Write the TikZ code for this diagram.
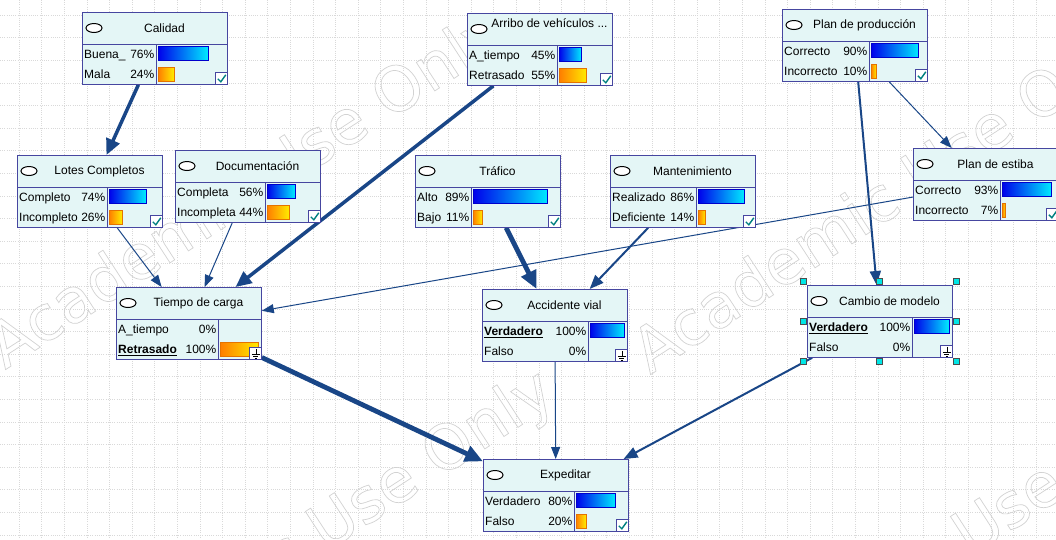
\documentclass[tikz,border=0pt]{standalone}
\usepackage{fontspec}
\setmainfont{Liberation Sans}
\newfontfamily\wmfont{DejaVu Sans}
\usetikzlibrary{arrows.meta, positioning}
\pgfdeclarelayer{grid}
\pgfdeclarelayer{edges}
\pgfsetlayers{grid,edges,main}

\definecolor{nodeborder}{RGB}{70,70,160}
\definecolor{nodefill}{RGB}{228,246,246}
\definecolor{linkblue}{RGB}{25,70,135}
\definecolor{barblueA}{RGB}{0,0,235}
\definecolor{barblueB}{RGB}{0,235,255}
\definecolor{barorangeA}{RGB}{255,125,0}
\definecolor{barorangeB}{RGB}{255,235,0}
\definecolor{checkteal}{RGB}{0,128,128}
\definecolor{handlecyan}{RGB}{0,230,230}

\tikzset{
    x=1pt, y=-1pt, % one unit is one pixel, y grows downwards
    bnbox/.style={draw=nodeborder, fill=nodefill, line width=0.8pt, anchor=north west,
        minimum width=145pt, minimum height=72pt, inner sep=0pt}, % the frame of a node
    bnline/.style={draw=nodeborder, line width=0.8pt},
    bnicon/.style={draw=black, fill=white, line width=1pt},
    bntitle/.style={font=\fontsize{12}{14}\selectfont, inner sep=0pt},
    bnrow/.style={font=\fontsize{12}{14}\selectfont, inner sep=0pt, text height=9pt, text depth=2.5pt},
    bluebar/.style={draw=blue!80!black, line width=0.6pt, left color=barblueA, right color=barblueB},
    orangebar/.style={draw=orange!90!black, line width=0.6pt, left color=barorangeA, right color=barorangeB},
    gridline/.style={draw=gray!30, line width=0.6pt, dash pattern=on 1pt off 1.2pt},
    watermark/.style={anchor=base west, rotate=33, inner sep=0pt, text=gray!35,
        font=\wmfont\fontsize{62}{62}\selectfont},
    handle/.style={draw=black!70, fill=handlecyan, line width=0.5pt, minimum size=6pt, inner sep=0pt},
    thinlink/.style={draw=linkblue, line width=1pt, -{Triangle[length=12pt,width=9pt]}}, % weak links
    midlink/.style={draw=linkblue, line width=2pt, -{Triangle[length=14pt,width=11pt]}},
    thicklink/.style={draw=linkblue, line width=3.5pt, -{Triangle[length=16pt,width=14pt]}},
    heavylink/.style={draw=linkblue, line width=4.8pt, -{Triangle[length=18pt,width=16pt]}}, % strong links
}

% name, top left corner, divider, title, title height
\newcommand{\bnnode}[5]{%
    \node[bnbox] (#1) at (#2) {};
    \draw[bnline] ([yshift=-32pt]#1.north west) -- ([yshift=-32pt]#1.north east);
    \draw[bnline] ([shift={(#3,32)}]#1.north west) -- ([xshift=#3pt]#1.south west);
    \draw[bnicon] ([shift={(12,16)}]#1.north west) ellipse (8pt and 4.5pt);
    \node[bntitle] (#1-title) at ([shift={(82.5,#5)}]#1.north west) {#4};
}
% node, row, divider, state, percent
\newcommand{\bnstate}[5]{%
    \node[bnrow, anchor=west] (#1-s#2) at ([shift={(2,43+20*#2)}]#1.north west) {#4};
    \node[bnrow, anchor=east] (#1-p#2) at ([shift={(#3-1.5,43+20*#2)}]#1.north west) {#5\%};
}
% node, row, divider, percent, bar style
\newcommand{\bnbar}[5]{%
    \draw[#5] ([shift={(#3+2,34+21*#2)}]#1.north west) rectangle ++({(140-#3)*#4/100},14);
}
\newcommand{\bncheck}[1]{%
    \draw[bnline, fill=white] ([shift={(-12,-12)}]#1.south east) rectangle (#1.south east);
    \draw[checkteal, line width=1.4pt] ([shift={(-10,-6)}]#1.south east) -- ++(3,3) -- ++(5,-7);
}
\newcommand{\bnground}[1]{%
    \draw[bnline, fill=white] ([shift={(-12,-12)}]#1.south east) rectangle (#1.south east);
    \draw[black, line width=0.6pt] ([shift={(-6,-11)}]#1.south east) -- ++(0,5)
        ([shift={(-10,-6)}]#1.south east) -- ++(8,0)
        ([shift={(-8.5,-4)}]#1.south east) -- ++(5,0)
        ([shift={(-7,-2)}]#1.south east) -- ++(2,0);
}
\newcommand{\wmoutline}[1]{\special{pdf:literal direct 1 Tr 0.7 w}#1\special{pdf:literal direct 0 Tr 0.4 w}}

\begin{document}
\begin{tikzpicture}
    \useasboundingbox (0,0) rectangle (1056,539);

    \begin{pgfonlayer}{grid}
        \fill[white] (0,0) rectangle (1056,539);
        \foreach \gx in {19,41.6,...,1056} \draw[gridline] (\gx,0) -- (\gx,539);
        \foreach \gy in {15,37.6,...,539} \draw[gridline] (0,\gy) -- (1056,\gy);
        \foreach \wx/\wy [count=\i] in {5/370, 650/375, 55/728, 700/733}
            \node[watermark] (wm\i) at (\wx,\wy) {\wmoutline{Academic Use Only}};
    \end{pgfonlayer}

    % top row
    \bnnode{calidad}{82,12}{74}{Calidad}{16}
    \bnstate{calidad}{0}{74}{Buena\_}{76}
    \bnstate{calidad}{1}{74}{Mala}{24}
    \bnbar{calidad}{0}{74}{76}{bluebar}
    \bnbar{calidad}{1}{74}{24}{orangebar}
    \bncheck{calidad}

    \bnnode{arribo}{467,13}{90}{Arribo de vehículos ...}{10}
    \bnstate{arribo}{0}{90}{A\_tiempo}{45}
    \bnstate{arribo}{1}{90}{Retrasado}{55}
    \bnbar{arribo}{0}{90}{45}{bluebar}
    \bnbar{arribo}{1}{90}{55}{orangebar}
    \bncheck{arribo}

    \bnnode{produccion}{782,9}{87}{Plan de producción}{16}
    \bnstate{produccion}{0}{87}{Correcto}{90}
    \bnstate{produccion}{1}{87}{Incorrecto}{10}
    \bnbar{produccion}{0}{87}{90}{bluebar}
    \bnbar{produccion}{1}{87}{10}{orangebar}
    \bncheck{produccion}

    % middle row
    \bnnode{lotes}{17,155}{90}{Lotes Completos}{16}
    \bnstate{lotes}{0}{90}{Completo}{74}
    \bnstate{lotes}{1}{90}{Incompleto}{26}
    \bnbar{lotes}{0}{90}{74}{bluebar}
    \bnbar{lotes}{1}{90}{26}{orangebar}
    \bncheck{lotes}

    \bnnode{documentacion}{175,150}{90}{Documentación}{16}
    \bnstate{documentacion}{0}{90}{Completa}{56}
    \bnstate{documentacion}{1}{90}{Incompleta}{44}
    \bnbar{documentacion}{0}{90}{56}{bluebar}
    \bnbar{documentacion}{1}{90}{44}{orangebar}
    \bncheck{documentacion}

    \bnnode{trafico}{415,155}{56}{Tráfico}{16}
    \bnstate{trafico}{0}{56}{Alto}{89}
    \bnstate{trafico}{1}{56}{Bajo}{11}
    \bnbar{trafico}{0}{56}{89}{bluebar}
    \bnbar{trafico}{1}{56}{11}{orangebar}
    \bncheck{trafico}

    \bnnode{mantenimiento}{610,155}{86}{Mantenimiento}{16}
    \bnstate{mantenimiento}{0}{86}{Realizado}{86}
    \bnstate{mantenimiento}{1}{86}{Deficiente}{14}
    \bnbar{mantenimiento}{0}{86}{86}{bluebar}
    \bnbar{mantenimiento}{1}{86}{14}{orangebar}
    \bncheck{mantenimiento}

    \bnnode{estiba}{913,148}{87}{Plan de estiba}{16}
    \bnstate{estiba}{0}{87}{Correcto}{93}
    \bnstate{estiba}{1}{87}{Incorrecto}{7}
    \bnbar{estiba}{0}{87}{93}{bluebar}
    \bnbar{estiba}{1}{87}{7}{orangebar}
    \bncheck{estiba}

    % evidence nodes
    \bnnode{tiempo}{116,287}{102}{Tiempo de carga}{16}
    \bnstate{tiempo}{0}{102}{A\_tiempo}{0}
    \bnstate{tiempo}{1}{102}{\textbf{\underline{Retrasado}}}{100}
    \bnbar{tiempo}{1}{102}{100}{orangebar}
    \bnground{tiempo}

    \bnnode{accidente}{482,289}{106}{Accidente vial}{16}
    \bnstate{accidente}{0}{106}{\textbf{\underline{Verdadero}}}{100}
    \bnstate{accidente}{1}{106}{Falso}{0}
    \bnbar{accidente}{0}{106}{100}{bluebar}
    \bnground{accidente}

    \bnnode{cambio}{807,285}{105}{Cambio de modelo}{16}
    \bnstate{cambio}{0}{105}{\textbf{\underline{Verdadero}}}{100}
    \bnstate{cambio}{1}{105}{Falso}{0}
    \bnbar{cambio}{0}{105}{100}{bluebar}
    \bnground{cambio}
    \foreach \hx/\hy [count=\i] in {-4/-4, 72.5/-4, 149/-4, -4/36, 149/36, -4/76, 72.5/76, 149/76}
        \node[handle] (handle\i) at ([shift={(\hx,\hy)}]cambio.north west) {};

    % bottom
    \bnnode{expeditar}{483,459}{91}{Expeditar}{16}
    \bnstate{expeditar}{0}{91}{Verdadero}{80}
    \bnstate{expeditar}{1}{91}{Falso}{20}
    \bnbar{expeditar}{0}{91}{80}{bluebar}
    \bnbar{expeditar}{1}{91}{20}{orangebar}
    \bncheck{expeditar}

    \begin{pgfonlayer}{edges}
        \draw[thicklink] (calidad) -- (lotes);
        \draw[thicklink] (arribo) -- (tiempo);
        \draw[thinlink] (lotes) -- (tiempo);
        \draw[thinlink] (documentacion) -- (tiempo);
        \draw[thinlink] (estiba) -- (tiempo);
        \draw[heavylink] (trafico) -- (accidente);
        \draw[midlink] (mantenimiento) -- (accidente);
        \draw[thinlink] (produccion) -- (estiba);
        \draw[midlink] (produccion) -- (cambio);
        \draw[heavylink] (tiempo) -- (expeditar);
        \draw[thinlink] (accidente) -- (expeditar);
        \draw[midlink] (cambio) -- (expeditar);
    \end{pgfonlayer}
\end{tikzpicture}
\end{document}
